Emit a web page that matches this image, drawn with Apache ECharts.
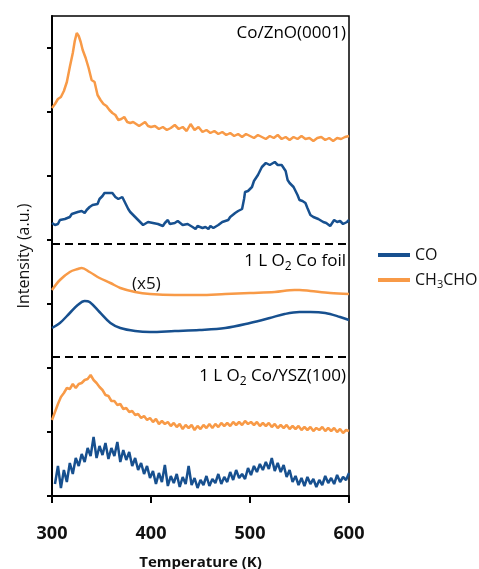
<!DOCTYPE html>
<html>
<head>
<meta charset="utf-8">
<script src="https://cdn.jsdelivr.net/npm/echarts@6/dist/echarts.min.js"></script>
<style>
html,body{margin:0;padding:0;background:#fff;}
#chart{width:479px;height:569px;}
</style>
</head>
<body>
<div id="chart"></div>
<script>
// Temperature (K) vs intensity (arbitrary units, offset traces)
const xTicks = [300, 400, 500, 600];
const legendNames = ['CO', 'CH3CHO'];
const panelLabels = ['Co/ZnO(0001)', '1 L O2 Co foil', '1 L O2 Co/YSZ(100)'];
const dividers = [252, 139];

// Co/ZnO(0001) CH3CHO
const znoCH3CHO = [[300,388],[303,392],[306,397],[309,399],[312,405],[315,414],[318,429],[321,443],[323,455],[325,463],[327,460],[329,454],[331,446],[334,438],[337,428],[340,416],[343,414],[346,401],[349,396],[352,392],[355,390],[358,386],[361,383],[364,381],[367,376],[370,377],[373,379],[376,374],[379,373],[382,374],[385,372],[388,370],[391,372],[394,374],[397,370],[400,369],
[404,370],[408,367],[412,369],[416,366],[420,368],[424,371],[428,367],[432,369],[436,365],[440,372],[444,366],[448,369],[452,364],[456,366],[460,363],[464,365],[468,362],[472,364],[476,361],[480,363],[484,360],[488,362],[492,359],[496,362],[500,360],[504,358],[508,361],[512,359],[516,357],[520,360],[524,358],[528,361],[532,357],[536,359],[540,356],[544,359],[548,357],[552,360],[556,357],[560,358],[564,355],[568,358],[572,359],[576,356],[580,358],[584,355],[588,358],[592,357],[596,359],[600,360]];

// Co/ZnO(0001) CO
const znoCO = [[300,273],[303,271],[306,272],[308,276],[310,275],[313,277],[315,276],[318,279],[320,282],[323,283],[326,284],[330,285],[333,283],[335,286],[338,289],[341,291],[343,293],[346,292],[348,297],[351,300],[353,303],[355,304],[357,303],[359,302],[361,303],[364,299],[367,297],[369,298],[371,299],[373,295],[375,291],[377,287],[379,284],[382,281],[384,279],[387,276],[389,274],[392,271],[394,272],[397,274],[399,276],[402,273],[404,274],[407,272],[409,273],[412,270],[414,273],[417,276],[419,272],[421,271],[424,273],[427,275],[429,274],[432,271],[434,270],[437,272],[439,273],[442,269],[445,267],[447,270],[449,270],[452,268],[455,269],[458,267],[460,270],[463,268],[465,270],[468,271],[470,273],[472,274],[475,275],[478,276],[480,279],[482,281],[485,283],[488,285],[490,286],[492,287],[494,297],[495,304],[498,305],[500,307],[502,309],[504,315],[506,318],[508,321],[510,325],[512,329],[514,331],[516,333],[518,332],[520,331],[522,333],[525,334],[528,331],[530,329],[532,331],[534,333],[536,325],[538,316],[540,313],[542,311],[544,309],[546,307],[548,301],[550,296],[553,295],[556,293],[558,288],[561,281],[564,279],[566,278],[569,277],[571,276],[574,274],[577,273],[579,271],[581,270],[583,273],[585,276],[588,274],[591,275],[594,272],[596,271],[598,274],[600,276]];

// 1 L O2 Co foil (x5)
const foilCH3CHO = [[300,206],[308,216],[318,224],[326,227],[330,228],[338,224],[348,218],[359,213],[369,208],[384,204],[399,202],[424,201],[449,201],[475,202],[500,203],[525,204],[545,206],[550,206],[561,205],[581,203],[600,202]];
const foilCO = [[300,168],[308,173],[318,183],[326,191],[333,195],[338,194],[348,184],[359,173],[369,168],[384,165],[399,164],[424,165],[449,166],[475,168],[500,173],[520,178],[535,182],[550,184],[561,184],[576,183],[591,179],[600,176]];

// 1 L O2 Co/YSZ(100)
const yszCH3CHO = [[300,76],[303,84],[306,92],[309,99],[312,103],[315,108],[318,107],[321,112],[324,108],[327,112],[330,113],[333,116],[336,117],[339,121],[342,116],[345,113],[348,109],[351,106],[354,101],[357,100],[360,95],[363,95],[366,91],[369,92],[372,87],[375,88],[378,84],[381,85],[384,81],[387,82],[390,78],[393,80],[396,76],[399,78],[402,74],[405,77],[408,72],[411,75],[414,72],[417,74],[420,70],[423,73],[426,69],[429,72],[432,67],[435,71],[438,68],[441,71],[444,66],[447,70],[450,67],[453,71],[456,68],[459,72],[462,68],[465,72],[468,69],[471,73],[474,70],[477,73],[480,70],[483,74],[486,71],[489,74],[492,71],[495,75],[498,72],[501,74],[504,71],[507,74],[510,70],[513,73],[516,70],[519,73],[522,69],[525,72],[528,68],[531,71],[534,68],[537,71],[540,67],[543,70],[546,67],[549,70],[552,66],[555,69],[558,66],[561,69],[564,65],[567,68],[570,66],[573,69],[576,65],[579,68],[582,65],[585,68],[588,64],[591,67],[594,63],[597,66],[600,65]];
const yszCO = [[303,12],[306,30],[309,8],[312,26],[315,14],[318,33],[321,22],[324,38],[327,30],[330,42],[333,34],[336,48],[339,40],[342,59],[345,38],[348,50],[351,41],[354,53],[357,37],[360,48],[363,40],[366,54],[369,34],[372,46],[375,36],[378,44],[381,30],[384,38],[387,26],[390,33],[393,22],[396,30],[399,18],[402,25],[405,12],[408,23],[411,14],[414,31],[417,10],[420,20],[423,13],[426,22],[429,9],[432,19],[435,12],[438,30],[441,11],[444,18],[447,8],[450,16],[453,11],[456,20],[459,10],[462,17],[465,13],[468,22],[471,12],[474,19],[477,14],[480,24],[483,16],[486,26],[489,18],[492,22],[495,17],[498,28],[501,21],[504,30],[507,24],[510,32],[513,26],[516,34],[519,27],[522,38],[525,25],[528,33],[531,24],[534,31],[537,19],[540,26],[543,14],[546,20],[549,11],[552,18],[555,10],[558,19],[561,12],[564,17],[567,9],[570,16],[573,11],[576,20],[579,13],[582,18],[585,12],[588,21],[591,14],[594,19],[597,16],[600,23]];

const BLUE = '#17508f';
const ORANGE = '#f89a47';
const FONT = 'Open Sans';

function lineSeries(name, data, color, smooth) {
  return {
    name: name, type: 'line', data: data, showSymbol: false, symbol: 'none',
    smooth: smooth ? 0.35 : false, lineStyle: { color: color, width: 2.5 },
    itemStyle: { color: color }, animation: false, silent: true
  };
}

const series = [
  lineSeries('CH3CHO', znoCH3CHO, ORANGE, false),
  lineSeries('CO', znoCO, BLUE, false),
  lineSeries('CH3CHO', foilCH3CHO, ORANGE, true),
  lineSeries('CO', foilCO, BLUE, true),
  lineSeries('CH3CHO', yszCH3CHO, ORANGE, false),
  lineSeries('CO', yszCO, BLUE, false)
];
series[1].markLine = {
  silent: true, symbol: 'none', animation: false,
  label: { show: false },
  lineStyle: { color: '#000', type: [8, 5], width: 2 },
  data: dividers.map(v => ({ yAxis: v }))
};

function sub(s) {
  return s.replace(/O2/, '{a|O}{s|2}').replace(/H3/, '{a|H}{s|3}');
}
function richLabel(s) {
  const parts = s.split(/(\{[as]\|[^}]*\})/).filter(p => p.length);
  return parts.map(p => p.startsWith('{') ? p : '{a|' + p + '}').join('');
}
const richStyle = {
  a: { fontSize: 17, fontFamily: FONT, color: '#111', lineHeight: 22 },
  s: { fontSize: 12, fontFamily: FONT, color: '#111', lineHeight: 14, verticalAlign: 'bottom' }
};

const labelPos = [[346, 34], [346, 262], [346, 377]];
const graphics = panelLabels.map((t, i) => ({
  type: 'text', right: 479 - labelPos[i][0], top: labelPos[i][1] - 9,
  style: { text: richLabel(sub(t)), rich: richStyle, align: 'right' }
}));
graphics.push({
  type: 'text', left: 132, top: 276,
  style: { text: '(x5)', fontSize: 17, fontFamily: FONT, fill: '#111' }
});

const chart = echarts.init(document.getElementById('chart'), null, { renderer: 'canvas' });
chart.setOption({
  animation: false,
  backgroundColor: '#fff',
  grid: { left: 52, right: 130, top: 16, bottom: 73, show: true, borderColor: '#000', borderWidth: 1.5, backgroundColor: 'transparent', outerBoundsMode: 'none', containLabel: false },
  xAxis: {
    type: 'value', min: xTicks[0], max: xTicks[xTicks.length - 1], interval: 100,
    name: 'Temperature (K)', nameLocation: 'middle', nameGap: 59,
    nameTextStyle: { fontSize: 15, fontWeight: 'bold', fontFamily: FONT, color: '#111' },
    axisLine: { show: true, lineStyle: { color: '#000', width: 2 } },
    axisTick: { show: true, inside: false, length: 7, lineStyle: { color: '#000', width: 2 } },
    axisLabel: { fontSize: 18, fontWeight: 'bold', fontFamily: FONT, color: '#111', margin: 29 },
    splitLine: { show: false }
  },
  yAxis: {
    type: 'value', min: 0, max: 480, interval: 64,
    name: 'Intensity (a.u.)', nameLocation: 'middle', nameGap: 20,
    nameTextStyle: { fontSize: 16, fontFamily: FONT, color: '#111' },
    axisLine: { show: true, lineStyle: { color: '#000', width: 2 } },
    axisTick: { show: true, inside: false, length: 5, lineStyle: { color: '#000', width: 2 },
      customValues: [0, 64, 128, 192, 256, 320, 384, 448] },
    axisLabel: { show: false },
    splitLine: { show: false }
  },
  legend: {
    data: legendNames, orient: 'vertical', left: 373, top: 242,
    icon: 'rect', itemWidth: 32, itemHeight: 4, itemGap: 9,
    formatter: n => richLabel(sub(n)),
    textStyle: { rich: {
      a: { fontSize: 16, fontFamily: FONT, color: '#111', lineHeight: 20 },
      s: { fontSize: 11, fontFamily: FONT, color: '#111', lineHeight: 13, verticalAlign: 'bottom' }
    } },
    selectedMode: false
  },
  graphic: graphics,
  series: series
});
</script>
</body>
</html>
